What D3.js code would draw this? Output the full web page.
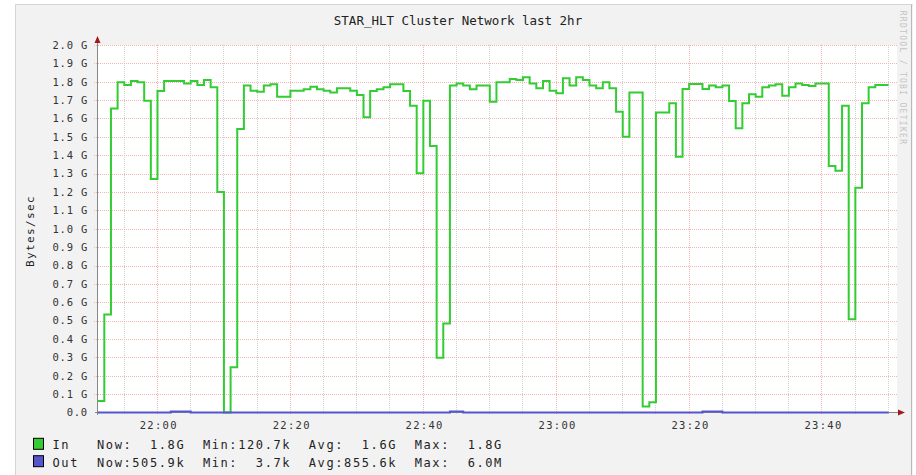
<!DOCTYPE html>
<html>
<head>
<meta charset="utf-8">
<script src="https://cdn.jsdelivr.net/npm/d3@7"></script>
<style>
  body { margin: 0; background: #fff; }
  text { font-family: "DejaVu Sans Mono", monospace; fill: #000; white-space: pre; }
</style>
</head>
<body>
<svg id="chart" width="916" height="475"></svg>
<script>
// one sample a minute, first one at 21:51
const inGB = [
  0.063, 0.534, 1.655, 1.797, 1.782, 1.804, 1.797, 1.697, 1.271, 1.750,
  1.804, 1.804, 1.804, 1.790, 1.804, 1.782, 1.810, 1.770, 1.200, 0.00012,
  0.246, 1.543, 1.779, 1.751, 1.746, 1.779, 1.786, 1.719, 1.719, 1.751,
  1.751, 1.759, 1.773, 1.759, 1.751, 1.742, 1.764, 1.764, 1.751, 1.728,
  1.607, 1.750, 1.759, 1.770, 1.786, 1.786, 1.750, 1.670, 1.302, 1.697,
  1.450, 0.298, 0.485, 1.779, 1.791, 1.779, 1.759, 1.780, 1.780, 1.691,
  1.797, 1.797, 1.815, 1.810, 1.824, 1.791, 1.764, 1.804, 1.751, 1.737,
  1.819, 1.779, 1.824, 1.810, 1.779, 1.764, 1.797, 1.764, 1.637, 1.501,
  1.742, 1.742, 0.032, 0.056, 1.632, 1.632, 1.683, 1.392, 1.760, 1.788,
  1.788, 1.760, 1.779, 1.770, 1.779, 1.695, 1.547, 1.683, 1.732, 1.719,
  1.770, 1.779, 1.786, 1.724, 1.770, 1.791, 1.782, 1.777, 1.791, 1.791,
  1.341, 1.316, 1.670, 0.507, 1.223, 1.683, 1.770, 1.782, 1.782
];
const outMB = [
  0.48, 0.52, 0.55, 0.51, 0.49, 0.53, 0.50, 0.47, 0.52, 0.50,
  0.54, 5.5, 6.0, 5.8, 0.51, 0.49, 0.52, 0.50, 0.46, 0.0037,
  0.21, 0.48, 0.53, 0.50, 0.51, 0.49, 0.52, 0.50, 0.48, 0.51,
  0.53, 0.50, 0.49, 0.52, 0.50, 0.51, 0.48, 0.52, 0.50, 0.49,
  0.47, 0.51, 0.53, 0.50, 0.52, 0.49, 0.50, 0.48, 0.44, 0.50,
  0.46, 0.18, 0.27, 5.5, 5.8, 0.52, 0.50, 0.51, 0.49, 0.50,
  0.52, 0.51, 0.53, 0.50, 0.54, 0.52, 0.49, 0.51, 0.50, 0.48,
  0.53, 0.50, 0.52, 0.51, 0.50, 0.49, 0.52, 0.50, 0.47, 0.45,
  0.50, 0.51, 0.02, 0.03, 0.48, 0.49, 0.50, 0.46, 0.51, 0.52,
  0.50, 5.6, 5.9, 5.5, 0.51, 0.49, 0.47, 0.50, 0.51, 0.50,
  0.52, 0.51, 0.53, 0.49, 0.50, 0.52, 0.51, 0.50, 0.52, 0.51,
  0.46, 0.45, 0.50, 0.30, 0.44, 0.49, 0.51, 0.50, 0.5059
];

const seriesNames = ["In", "Out"];
const seriesColors = ["#33cc33", "#5555cc"];
const legendStats = [
  "Now:  1.8G  Min:120.7k  Avg:  1.6G  Max:  1.8G",
  "Now:505.9k  Min:  3.7k  Avg:855.6k  Max:  6.0M"
];
const titleText = "STAR_HLT Cluster Network last 2hr";
const yLabel = "Bytes/sec";

const viewStart = new Date(2000, 0, 1, 21, 51, 0);
const viewEnd = new Date(2000, 0, 1, 23, 51, 22);
const firstSample = new Date(2000, 0, 1, 21, 51, 6);
const stepMs = 60 * 1000;

const svg = d3.select("#chart");

// frame
svg.append("rect").attr("x", 15).attr("y", 4).attr("width", 898).attr("height", 480)
   .attr("fill", "#f2f2f2");
svg.append("path").attr("d", "M15.5,475V4.5H912.5")
   .attr("fill", "none").attr("stroke", "#d4d4d4");
svg.append("path").attr("d", "M911.5,4.5V475")
   .attr("fill", "none").attr("stroke", "#b8b8b8");

const pLeft = 97, pRight = 897, pTop = 45, pBottom = 412.5;

const x = d3.scaleTime().domain([viewStart, viewEnd]).range([pLeft, pRight]);
const y = d3.scaleLinear().domain([0, 2.0e9]).range([pBottom, pTop]);

// canvas
svg.append("rect").attr("x", pLeft).attr("y", pTop)
   .attr("width", pRight - pLeft).attr("height", pBottom - pTop).attr("fill", "#fff");

const grid = svg.append("g").attr("shape-rendering", "crispEdges");

// minor vertical grid, every 5 minutes
const minorTicks = x.ticks(d3.timeMinute.every(5));
grid.selectAll(".vminor").data(minorTicks.filter(d => d.getMinutes() % 20 !== 0))
  .enter().append("line")
  .attr("x1", d => Math.round(x(d)) + 0.5).attr("x2", d => Math.round(x(d)) + 0.5)
  .attr("y1", pTop).attr("y2", pBottom + 2)
  .attr("stroke", "#d2d2d2").attr("stroke-dasharray", "1,1");

// major vertical grid, every 20 minutes
const majorTicks = x.ticks(d3.timeMinute.every(20));
grid.selectAll(".vmajor").data(majorTicks)
  .enter().append("line")
  .attr("x1", d => Math.round(x(d)) + 0.5).attr("x2", d => Math.round(x(d)) + 0.5)
  .attr("y1", pTop).attr("y2", pBottom + 2)
  .attr("stroke", "#f6b4b4").attr("stroke-dasharray", "1,1");

// horizontal grid
const yTicks = y.ticks(20);
grid.selectAll(".hmajor").data(yTicks.filter(d => d > 0))
  .enter().append("line")
  .attr("x1", pLeft - 3).attr("x2", pRight)
  .attr("y1", d => Math.round(y(d)) + 0.5).attr("y2", d => Math.round(y(d)) + 0.5)
  .attr("stroke", "#f6b4b4").attr("stroke-dasharray", "1,1");

// y labels
svg.selectAll(".ylab").data(yTicks).enter().append("text")
  .attr("x", 88).attr("y", d => y(d) + 3.8)
  .attr("text-anchor", "end")
  .style("font-size", "10.5px").style("letter-spacing", "0.8px").style("fill", "#333")
  .text(d => d === 0 ? "0.0" : (d / 1e9).toFixed(1) + " G");

// x labels
svg.selectAll(".xlab").data(majorTicks).enter().append("text")
  .attr("x", d => x(d) + 2).attr("y", 428.5)
  .attr("text-anchor", "middle")
  .style("font-size", "10.5px").style("letter-spacing", "1.3px").style("fill", "#333")
  .text(d3.timeFormat("%H:%M"));

// axes
svg.append("line").attr("x1", pLeft + 0.5).attr("x2", pLeft + 0.5)
   .attr("y1", pBottom + 2).attr("y2", pTop - 4)
   .attr("stroke", "#888").attr("shape-rendering", "crispEdges");
svg.append("line").attr("x1", pLeft - 2).attr("x2", pRight + 2)
   .attr("y1", pBottom).attr("y2", pBottom)
   .attr("stroke", "#888").attr("shape-rendering", "crispEdges");
svg.append("path").attr("d", `M${pLeft + 0.5},${pTop - 9}L${pLeft + 3.5},${pTop - 2}L${pLeft - 2.5},${pTop - 2}Z`)
   .attr("fill", "#a01c1c");
svg.append("path").attr("d", `M${pRight + 8},${pBottom}L${pRight + 1},${pBottom - 3}L${pRight + 1},${pBottom + 3}Z`)
   .attr("fill", "#a01c1c");

// series
function points(vals, scale) {
  const pts = vals.map((v, i) => [new Date(+firstSample + i * stepMs), v * scale]);
  pts.push([new Date(+firstSample + vals.length * stepMs), vals[vals.length - 1] * scale]);
  return pts;
}
const line = d3.line()
  .x(d => x(d[0])).y(d => y(d[1]))
  .curve(d3.curveStepAfter);

const seriesData = [points(inGB, 1e9), points(outMB, 1e6)];
svg.selectAll(".series").data(seriesData).enter().append("path")
  .attr("d", line)
  .attr("fill", "none")
  .attr("stroke", (d, i) => seriesColors[i])
  .attr("stroke-width", 2)
  .attr("stroke-linejoin", "miter");

// title
svg.append("text").attr("x", 458).attr("y", 25)
  .attr("text-anchor", "middle")
  .style("font-size", "12.5px").style("fill", "#222")
  .text(titleText);

// y axis title
svg.append("text")
  .attr("transform", "translate(34,231) rotate(-90)")
  .attr("text-anchor", "middle")
  .style("font-size", "11px").style("letter-spacing", "1.4px").style("fill", "#222")
  .text(yLabel);

// watermark
svg.append("text")
  .attr("transform", "translate(900,78) rotate(90)")
  .attr("text-anchor", "middle")
  .style("font-size", "8px").style("letter-spacing", "1.3px").style("fill", "#c4c4c4")
  .text("RRDTOOL / TOBI OETIKER");

// legend
const legend = svg.selectAll(".leg").data(seriesNames).enter().append("g")
  .attr("transform", (d, i) => `translate(0,${449.3 + i * 17.4})`);
legend.append("rect")
  .attr("x", 33.5).attr("y", -11).attr("width", 10).attr("height", 11)
  .attr("fill", (d, i) => seriesColors[i]).attr("stroke", "#000");
legend.append("text").attr("x", 52.5).attr("y", 0)
  .style("font-size", "12px").style("letter-spacing", "1.6px").style("fill", "#222")
  .text(d => d);
legend.append("text").attr("x", 97).attr("y", 0)
  .style("font-size", "12px").style("letter-spacing", "1.6px").style("fill", "#222")
  .text((d, i) => legendStats[i]);
</script>
</body>
</html>
